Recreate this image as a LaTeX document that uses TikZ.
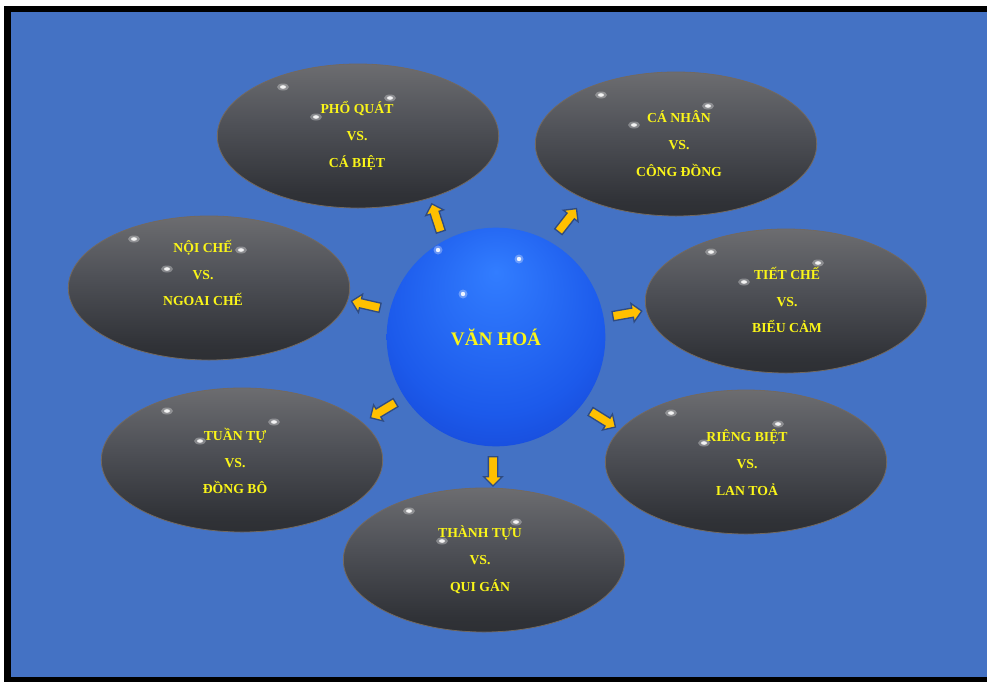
\documentclass[tikz,border=0pt]{standalone}
\usepackage{fontspec}
\setmainfont{Liberation Serif}
\usepackage{tikz}
\usetikzlibrary{shapes.geometric,shapes.arrows}
\definecolor{bgblue}{RGB}{68,114,196}
\definecolor{labelyellow}{RGB}{250,245,25}
\definecolor{arrowfill}{RGB}{255,192,0}
\definecolor{arrowrim}{RGB}{47,75,130}
\definecolor{bubblerim}{RGB}{115,105,95}
\definecolor{bubA}{RGB}{110,100,90}
\definecolor{bubB}{RGB}{36,36,38}
\definecolor{bubC}{RGB}{48,50,55}
\definecolor{bubD}{RGB}{80,82,88}
\definecolor{bubE}{RGB}{122,122,124}
\definecolor{sphA}{RGB}{50,125,255}
\definecolor{sphB}{RGB}{28,90,235}
\definecolor{sphC}{RGB}{18,55,195}
\pgfdeclareverticalshading{bubbleshade}{100bp}{color(0bp)=(bubA); color(5bp)=(bubB); color(30bp)=(bubC); color(55bp)=(bubD); color(85bp)=(bubE); color(100bp)=(bubE)}
\pgfdeclareradialshading{globeshade}{\pgfpoint{0bp}{15bp}}{color(0bp)=(sphA); color(25bp)=(sphB); color(45bp)=(sphC); color(50bp)=(sphC)}
\tikzstyle{bubble}=[ellipse, shade, shading=bubbleshade, draw=bubblerim, line width=0.6pt, minimum width=211pt, minimum height=108pt, inner sep=0pt]
\tikzstyle{pairtext}=[text=labelyellow, font=\bfseries\fontsize{10.3}{20.2}\selectfont, align=center]
\tikzstyle{globe}=[circle, shade, shading=globeshade, minimum size=164pt, inner sep=0pt, text=labelyellow, font=\bfseries\fontsize{14.4}{17}\selectfont]
\tikzstyle{blockarr}=[single arrow, fill=arrowfill, draw=arrowrim, line width=1pt, minimum height=22pt, inner sep=3pt, single arrow head extend=3.5pt]
\tikzstyle{glint}=[white, opacity=0.9]
\tikzstyle{halo}=[white, opacity=0.3]

\begin{document}
\begin{tikzpicture}[x=0.75pt, y=-0.75pt]
    \useasboundingbox (0,0) rectangle (987,682);
    \fill[white] (0,0) rectangle (987,682);
    \fill[black] (4,6) rectangle (987,682);
    \fill[bgblue] (11,12) rectangle (987,677);
    \begin{scope}
        \node[bubble] (pq) at (358,136) {};
        \node[bubble] (cn) at (676,144) {};
        \node[bubble] (nc) at (209,288) {};
        \node[bubble] (tc) at (786,301) {};
        \node[bubble] (tt) at (242,460) {};
        \node[bubble] (rb) at (746,462) {};
        \node[bubble] (th) at (484,560) {};
        % glints on the bubbles
        \foreach \cx/\cy in {358/136, 676/144, 209/288, 786/301, 242/460, 746/462, 484/560}{
            \foreach \dx/\dy in {-75/-49, 32/-38, -42/-19}{
                \fill[halo] (\cx+\dx,\cy+\dy) ellipse [x radius=6, y radius=3.5];
                \fill[glint] (\cx+\dx,\cy+\dy) ellipse [x radius=3, y radius=1.8];
            }
        }
        \node[pairtext] (pqt) at (357,136) {PHỔ QUÁT\\VS.\\CÁ BIỆT};
        \node[pairtext] (cnt) at (679,144) {CÁ NHÂN\\VS.\\CÔNG ĐỒNG};
        \node[pairtext] (nct) at (203,273) {NỘI CHẾ\\VS.\\NGOAI CHẾ};
        \node[pairtext] (tct) at (787,300) {TIẾT CHẾ\\VS.\\BIỂU CẢM};
        \node[pairtext] (ttt) at (235,461) {TUẦN TỰ\\VS.\\ĐỒNG BÔ};
        \node[pairtext] (rbt) at (747,463) {RIÊNG BIỆT\\VS.\\LAN TOẢ};
        \node[pairtext] (tht) at (480,560) {THÀNH TỰU\\VS.\\QUI GÁN};
    \end{scope}
    \begin{scope}
        \node[globe] (vh) at (496,337) {VĂN HOÁ};
        \foreach \gx/\gy in {438/250, 519/259, 463/294}{
            \fill[halo] (\gx,\gy) circle (4.5);
            \fill[glint] (\gx,\gy) circle (2.2);
        }
    \end{scope}
    \begin{scope}
        \node[blockarr, rotate=108] (a1) at (437,220) {};
        \node[blockarr, rotate=52] (a2) at (566,222) {};
        \node[blockarr, rotate=167] (a3) at (368,305) {};
        \node[blockarr, rotate=10] (a4) at (625,314) {};
        \node[blockarr, rotate=211] (a5) at (385,409) {};
        \node[blockarr, rotate=-32] (a6) at (601,418) {};
        \node[blockarr, rotate=-90] (a7) at (493,469) {};
    \end{scope}
\end{tikzpicture}
\end{document}
